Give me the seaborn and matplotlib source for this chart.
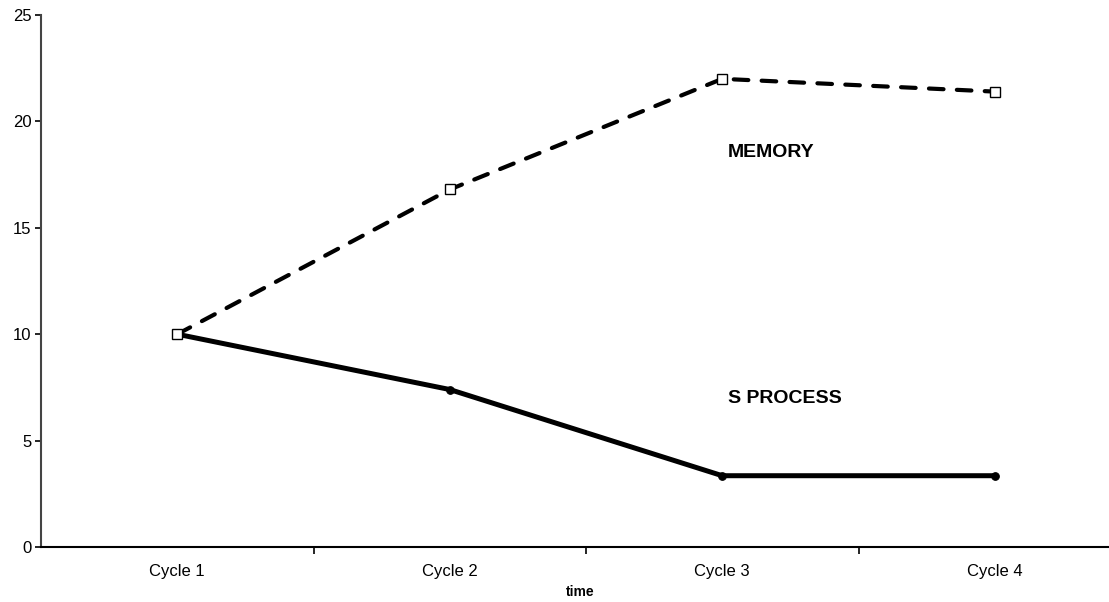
import matplotlib
matplotlib.use("Agg")
import matplotlib.pyplot as plt
import seaborn as sns
import pandas as pd
from matplotlib.ticker import FixedLocator, NullFormatter

cycles = ["Cycle 1", "Cycle 2", "Cycle 3", "Cycle 4"]
memory = [10.0, 16.8, 22.0, 21.4]
s_process = [10.0, 7.4, 3.35, 3.35]
y_ticks = [0, 5, 10, 15, 20, 25]

sns.set_theme(style="white")
plt.rcParams['font.family'] = ['Liberation Sans', 'DejaVu Sans']
plt.rcParams['text.color'] = 'black'
plt.rcParams['axes.labelcolor'] = 'black'
plt.rcParams['xtick.color'] = 'black'
plt.rcParams['ytick.color'] = 'black'

fig = plt.figure(figsize=(11.09, 6.02), dpi=100)
ax = fig.add_axes([41/1109, 55/602, 1090/1109, 532/602])

pos = list(range(len(cycles)))
df_s = pd.DataFrame({"x": pos, "y": s_process})
df_m = pd.DataFrame({"x": pos, "y": memory})

sns.lineplot(data=df_s, x="x", y="y", ax=ax, color="black", lw=3.6,
             marker="o", markersize=5.5, markerfacecolor="black",
             markeredgecolor="black", zorder=3)
sns.lineplot(data=df_m, x="x", y="y", ax=ax, color="black", lw=3.0,
             marker="s", markersize=7, markerfacecolor="white",
             markeredgecolor="black", markeredgewidth=1.0, zorder=4)
ax.lines[-1].set_dashes((3.5, 3.2))
ax.lines[-1].set_dash_capstyle("round")

ax.set_xlim(-0.5, len(cycles) - 0.5)
ax.set_ylim(0, 25)
ax.set_yticks(y_ticks)
ax.set_xticks(pos)
ax.set_xticklabels(cycles)
ax.xaxis.set_minor_locator(FixedLocator([p + 0.5 for p in pos[:-1]]))
ax.xaxis.set_minor_formatter(NullFormatter())

ax.tick_params(axis="x", which="major", length=0, pad=12, labelsize=12, colors="black")
ax.tick_params(axis="x", which="minor", length=5, width=1.2, direction="out", color="black", bottom=True)
ax.tick_params(axis="y", which="major", length=4, width=1.2, direction="out", pad=3, labelsize=12, colors="black", left=True)

for s in ["top", "right"]:
    ax.spines[s].set_visible(False)
ax.spines["left"].set_color("#444444")
ax.spines["left"].set_linewidth(1.5)
ax.spines["bottom"].set_color("black")
ax.spines["bottom"].set_linewidth(1.5)

ax.set_ylabel("")
ax.set_xlabel("time", fontsize=10, fontweight="bold", color="black")
ax.xaxis.set_label_coords(539/1090, -38/532)

ax.text(2.02, 18.56, "MEMORY", fontsize=14, fontweight="bold", va="center", ha="left", color="black")
ax.text(2.02, 7.0, "S PROCESS", fontsize=14, fontweight="bold", va="center", ha="left", color="black")

fig.savefig("out.png", dpi=100)
